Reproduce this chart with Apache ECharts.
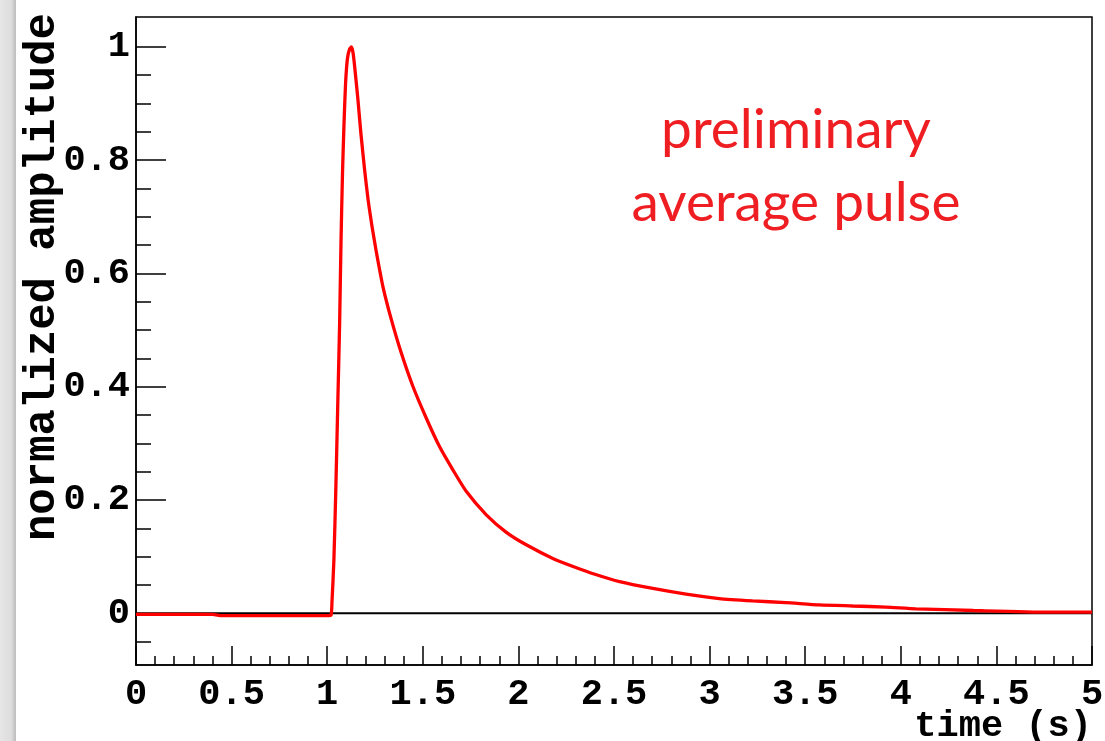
<!DOCTYPE html>
<html>
<head>
<meta charset="utf-8">
<title>average pulse</title>
<script src="https://cdn.jsdelivr.net/npm/echarts@6/dist/echarts.min.js"></script>
<style>
  html, body { margin: 0; padding: 0; background: #ffffff; }
  #chart { width: 1105px; height: 741px; }
</style>
</head>
<body>
<div id="chart"></div>
<script>
// Averaged, normalized pulse shape: time (s) and amplitude samples
const timeS = [
  0.00, 0.10, 0.20, 0.40, 0.45, 0.60, 0.80, 1.00, 1.020,
  1.025, 1.035, 1.045, 1.055, 1.065, 1.072, 1.080, 1.088, 1.096, 1.106,
  1.118, 1.127, 1.135, 1.144, 1.161, 1.176, 1.196, 1.214, 1.236, 1.257,
  1.292, 1.336, 1.388, 1.449, 1.519, 1.588, 1.658, 1.728, 1.832, 1.937,
  2.041, 2.180, 2.300, 2.400, 2.529, 2.703, 2.877, 3.051, 3.225, 3.399,
  3.574, 3.748, 3.922, 4.079, 4.380, 4.770, 5.000
];
const amplitude = [
  -0.002, -0.002, -0.002, -0.002, -0.004, -0.004, -0.004, -0.004, -0.003,
  0.020, 0.094, 0.218, 0.365, 0.512, 0.653, 0.777, 0.865, 0.935, 0.980,
  0.997, 1.000, 0.990, 0.964, 0.906, 0.848, 0.782, 0.730, 0.680, 0.638,
  0.576, 0.518, 0.459, 0.400, 0.344, 0.294, 0.253, 0.215, 0.174, 0.143,
  0.121, 0.097, 0.081, 0.069, 0.056, 0.044, 0.034, 0.026, 0.022, 0.019,
  0.015, 0.013, 0.011, 0.008, 0.005, 0.002, 0.002
];

// Reference line at zero amplitude
const zeroLineX = [0, 5];
const zeroLineY = [0, 0];

// Axis ticks
const yMajorTicks = [0, 0.2, 0.4, 0.6, 0.8, 1];
const yMinorTicks = [-0.05, 0.05, 0.1, 0.15, 0.25, 0.3, 0.35, 0.45, 0.5, 0.55,
                     0.65, 0.7, 0.75, 0.85, 0.9, 0.95];

const xTitle = 'time (s)';
const yTitle = 'normalized amplitude';
const annotation = 'preliminary\naverage pulse';

const MONO = '"Liberation Mono", "DejaVu Sans Mono", monospace';
const Y_MIN = -0.0912, Y_MAX = 1.0528;

const chart = echarts.init(document.getElementById('chart'), null, { renderer: 'canvas' });

const pulse = timeS.map((t, i) => [t, amplitude[i]]);
const zero = zeroLineX.map((t, i) => [t, zeroLineY[i]]);

const tickStyle = { color: '#000', width: 1.5 };

chart.setOption({
  animation: false,
  backgroundColor: '#ffffff',
  grid: {
    left: 136, right: 13, top: 17, bottom: 76,
    containLabel: false, outerBoundsMode: 'none',
    show: true, borderColor: '#000', borderWidth: 1.5, backgroundColor: '#ffffff'
  },
  xAxis: {
    type: 'value', min: 0, max: 5, interval: 0.5,
    axisLine: { show: true, onZero: false, lineStyle: tickStyle },
    axisTick: { show: true, inside: true, length: 19, lineStyle: tickStyle },
    minorTick: { show: true, splitNumber: 5, length: 9, lineStyle: tickStyle },
    splitLine: { show: false },
    axisLabel: { fontFamily: MONO, fontWeight: 'bold', fontSize: 37, color: '#000', margin: 11 }
  },
  yAxis: [
    {
      type: 'value', min: Y_MIN, max: Y_MAX,
      axisLine: { show: true, onZero: false, lineStyle: tickStyle },
      axisTick: { show: true, inside: true, length: 30, lineStyle: tickStyle, customValues: yMajorTicks },
      splitLine: { show: false },
      axisLabel: { fontFamily: MONO, fontWeight: 'bold', fontSize: 37, color: '#000', margin: 6,
                   customValues: yMajorTicks }
    },
    {
      type: 'value', min: Y_MIN, max: Y_MAX, position: 'left',
      axisLine: { show: false, onZero: false },
      axisTick: { show: true, inside: true, length: 15, lineStyle: tickStyle, customValues: yMinorTicks },
      axisLabel: { show: false },
      splitLine: { show: false }
    }
  ],
  series: [
    {
      type: 'line', data: zero, yAxisIndex: 0, symbol: 'none', silent: true, z: 1,
      lineStyle: { color: '#000', width: 2 }
    },
    {
      type: 'line', data: pulse, yAxisIndex: 0, symbol: 'none', z: 3,
      smooth: 0.2,
      lineStyle: { color: '#ff0000', width: 3.3 }
    }
  ],
  graphic: [
    {
      type: 'rect', left: 0, top: 0, z: 100,
      shape: { width: 16, height: 741 },
      style: {
        fill: new echarts.graphic.LinearGradient(0, 0, 1, 0, [
          { offset: 0, color: '#e6e6e6' },
          { offset: 0.7, color: '#dddddd' },
          { offset: 1, color: '#bcbcbc' }
        ])
      }
    },
    {
      // vertical axis title, reading bottom to top, ending at the top of the frame
      type: 'text', x: 65, y: 13, rotation: Math.PI / 2, z: 100,
      style: {
        text: yTitle,
        font: 'bold 44px ' + MONO,
        fill: '#000',
        align: 'right',
        verticalAlign: 'bottom'
      }
    },
    {
      type: 'text', x: 1092, y: 708, z: 100,
      style: {
        text: xTitle,
        font: 'bold 37px ' + MONO,
        fill: '#000',
        align: 'right',
        verticalAlign: 'top'
      }
    },
    {
      type: 'text', x: 796, y: 94, z: 100,
      style: {
        text: annotation,
        font: '55px Lato, "Noto Sans", sans-serif',
        fill: '#ef1e22',
        align: 'center',
        verticalAlign: 'top',
        lineHeight: 73
      }
    }
  ]
});
</script>
</body>
</html>
